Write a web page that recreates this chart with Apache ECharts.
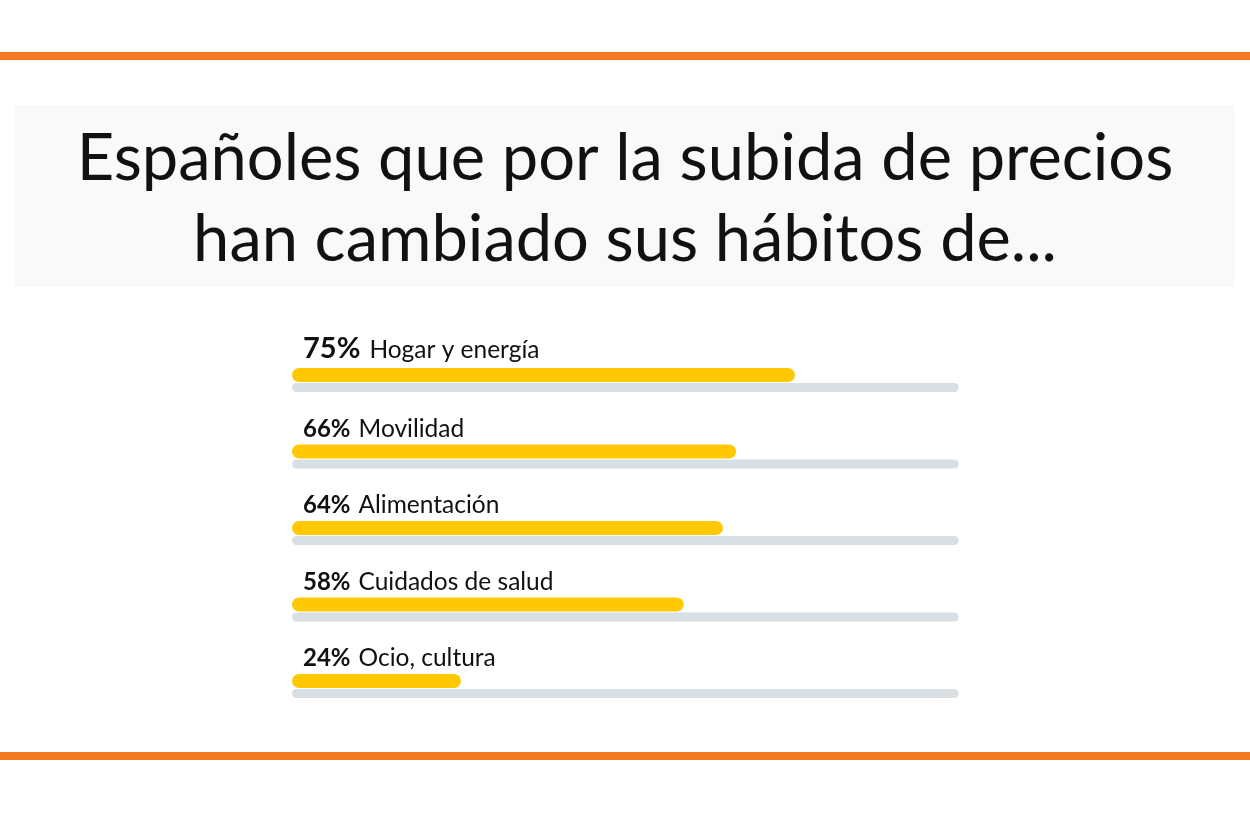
<!DOCTYPE html>
<html>
<head>
<meta charset="utf-8">
<script src="https://cdn.jsdelivr.net/npm/echarts@6/dist/echarts.min.js"></script>
<style>
html,body{margin:0;padding:0;background:#fff;}
#chart{width:1250px;height:813px;}
</style>
</head>
<body>
<div id="chart"></div>
<script>
const titleLines = ['Españoles que por la subida de precios', 'han cambiado sus hábitos de...'];
const categories = ['Hogar y energía', 'Movilidad', 'Alimentación', 'Cuidados de salud', 'Ocio, cultura'];
const values = [75, 66, 64, 58, 24];
const totals = [100, 100, 100, 100, 100];

const chart = echarts.init(document.getElementById('chart'), null, {renderer: 'canvas'});
const font = 'Lato, "Noto Sans", sans-serif';
const axisStart = -1.8;

const yellowData = values.map(function (v, i) {
  return i === 0 ? {value: v, label: {position: [11, -19.5]}} : v;
});

const option = {
  backgroundColor: '#ffffff',
  animation: false,
  title: {
    text: titleLines.join('\n'),
    left: 'center',
    top: 114,
    textStyle: {
      fontFamily: font,
      fontSize: 65,
      fontWeight: 'normal',
      color: '#111111',
      lineHeight: 81
    }
  },
  graphic: [
    {type: 'rect', shape: {x: 0, y: 52, width: 1250, height: 8}, style: {fill: '#F47920'}, z: -10},
    {type: 'rect', shape: {x: 0, y: 752, width: 1250, height: 8}, style: {fill: '#F47920'}, z: -10},
    {type: 'rect', shape: {x: 15, y: 105, width: 1220, height: 182}, style: {fill: '#F8F9FA'}, z: -10}
  ],
  grid: [
    {left: 292, width: 666.7, top: 336.75, height: 382.5},
    {left: 292, width: 666.7, top: 349.25, height: 382.5}
  ],
  xAxis: [
    {gridIndex: 0, type: 'value', min: axisStart, max: 100, startValue: axisStart, show: false},
    {gridIndex: 1, type: 'value', min: axisStart, max: 100, startValue: axisStart, show: false}
  ],
  yAxis: [
    {gridIndex: 0, type: 'category', data: categories, inverse: true, show: false},
    {gridIndex: 1, type: 'category', data: categories, inverse: true, show: false}
  ],
  series: [
    {
      type: 'bar',
      xAxisIndex: 1,
      yAxisIndex: 1,
      data: totals,
      barWidth: 9,
      itemStyle: {color: '#D9E0E5', borderRadius: 4.5},
      silent: true,
      z: 1
    },
    {
      type: 'bar',
      xAxisIndex: 0,
      yAxisIndex: 0,
      data: yellowData,
      barWidth: 14,
      itemStyle: {color: '#FFC800', borderRadius: 7},
      z: 2,
      label: {
        show: true,
        position: [11, -15.5],
        align: 'left',
        verticalAlign: 'middle',
        formatter: function (p) {
          const pctStyle = p.dataIndex === 0 ? 'p1' : 'p';
          return '{' + pctStyle + '|' + p.value + '%}{n|' + p.name + '}';
        },
        rich: {
          p1: {fontFamily: font, fontSize: 29, fontWeight: 'bold', color: '#111111', lineHeight: 29, verticalAlign: 'bottom', padding: [0, 9, 0, 0]},
          p: {fontFamily: font, fontSize: 24, fontWeight: 'bold', color: '#111111', lineHeight: 24, verticalAlign: 'bottom', padding: [0, 8, 0, 0]},
          n: {fontFamily: font, fontSize: 24.5, fontWeight: 'normal', color: '#111111', lineHeight: 24.5, verticalAlign: 'bottom'}
        }
      }
    }
  ]
};
chart.setOption(option);
</script>
</body>
</html>
